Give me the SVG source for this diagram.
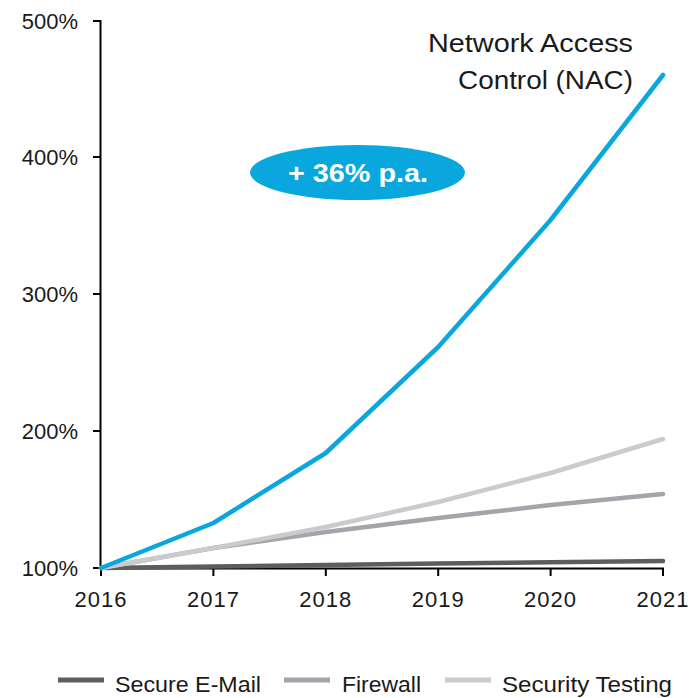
<svg xmlns="http://www.w3.org/2000/svg" width="695" height="698" viewBox="0 0 695 698">
<style>
text{font-family:"Liberation Sans",Arial,sans-serif;fill:#1a1a1a}
.ax{stroke:#000;stroke-width:2;fill:none}
.yl{font-size:22px;text-anchor:end}
.xl{font-size:22px;text-anchor:middle;letter-spacing:1px}
.ser{fill:none;stroke-width:4.5;stroke-linejoin:round;stroke-linecap:round}
.lg{font-size:22px}
</style>
<rect width="695" height="698" fill="#fff"/>
<g id="axes">
<path class="ax" d="M100.5,20 V568.5 H663 V576"/>
<path class="ax" d="M93,21 H100.5 M93,157 H100.5 M93,294 H100.5 M93,431 H100.5 M93,568 H100.5"/>
<path class="ax" d="M101,568 V576 M213.4,568 V576 M325.8,568 V576 M438.2,568 V576 M550.6,568 V576"/>
<text class="yl" x="78" y="29">500%</text>
<text class="yl" x="78" y="165">400%</text>
<text class="yl" x="78" y="302">300%</text>
<text class="yl" x="78" y="439">200%</text>
<text class="yl" x="78" y="576">100%</text>
<text class="xl" x="101" y="607">2016</text>
<text class="xl" x="213.4" y="607">2017</text>
<text class="xl" x="325.8" y="607">2018</text>
<text class="xl" x="438.2" y="607">2019</text>
<text class="xl" x="550.6" y="607">2020</text>
<text class="xl" x="663" y="607">2021</text>
</g>
<g id="connectors">
<polyline id="email" class="ser" stroke="#5d5d5d" points="101,568 213.4,566.5 325.8,565 438.2,563.5 550.6,562.3 663,561"/>
<polyline id="firewall" class="ser" stroke="#a2a6aa" points="101,568 213.4,548 325.8,532 438.2,518 550.6,505 663,494"/>
<polyline id="sectest" class="ser" stroke="#c9cbcd" points="101,568 213.4,548 325.8,527 438.2,502 550.6,473 663,439"/>
<polyline id="nac" class="ser" stroke="#0aa7de" points="101,568 213.4,523 325.8,453 438.2,347 550.6,220 663,75"/>
</g>
<g id="nac-label">
<text x="633" y="52" font-size="26" text-anchor="end" textLength="205" lengthAdjust="spacingAndGlyphs">Network Access</text>
<text x="633" y="89" font-size="26" text-anchor="end" textLength="175" lengthAdjust="spacingAndGlyphs">Control (NAC)</text>
</g>
<g id="bubble">
<ellipse cx="357.5" cy="172.5" rx="107.5" ry="27.5" fill="#0aa7de"/>
<text x="358" y="182" font-size="26" font-weight="bold" text-anchor="middle" style="fill:#fff" textLength="140" lengthAdjust="spacingAndGlyphs">+ 36% p.a.</text>
</g>
<g id="legend">
<line x1="58" y1="680" x2="104" y2="680" stroke="#5d5d5d" stroke-width="5"/>
<text class="lg" x="115" y="692" textLength="146" lengthAdjust="spacingAndGlyphs">Secure E-Mail</text>
<line x1="284" y1="680" x2="330" y2="680" stroke="#a2a6aa" stroke-width="5"/>
<text class="lg" x="342" y="692" textLength="79" lengthAdjust="spacingAndGlyphs">Firewall</text>
<line x1="445" y1="680" x2="491" y2="680" stroke="#c9cbcd" stroke-width="5"/>
<text class="lg" x="502" y="692" textLength="170" lengthAdjust="spacingAndGlyphs">Security Testing</text>
</g>
</svg>
